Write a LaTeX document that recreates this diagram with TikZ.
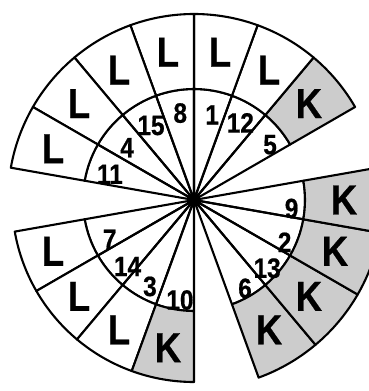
\documentclass[tikz,border=0pt]{standalone}
\usepackage{fontspec}
\setmainfont{Liberation Sans}
\newfontfamily\cellfont[FakeStretch=0.87, FakeBold=0.6]{Liberation Sans}
\definecolor{kgray}{gray}{0.8}
\tikzset{
  wedge/.style={draw, line width=2.1pt, line join=round},
  num/.style={font=\cellfont\bfseries\fontsize{28}{28}\selectfont, inner sep=0pt},
  letter/.style={font=\cellfont\bfseries\fontsize{42}{42}\selectfont, inner sep=0pt}
}
\begin{document}
\begin{tikzpicture}[x=1pt, y=1pt]
  \useasboundingbox (-194,-191) rectangle (175,200);
  \clip (-194,-191) rectangle (175,200);
  \coordinate (c) at (0,0);
  % start angle / outer radius / number / where the number sits / letter / fill
  \foreach \a/\ro/\n/\p/\t/\f in {
      30/186/5/{36:94}/K/kgray, 50/186/12/{59:90}/L/white,
      70/186/1/{78:87}/L/white, 90/186/8/{99:88}/L/white,
      110/186/15/{120:86}/L/white, 130/186/4/{142:85}/L/white,
      150/186/11/{163:88}/L/white,
      190/182/7/{205:93}/L/white, 210/182/14/{225:94}/L/white,
      230/182/3/{243:97}/L/white, 250/182/10/{262:101}/K/kgray,
      290/189/6/{300:102}/K/kgray, 310/189/13/{317:100}/K/kgray,
      330/189/2/{335:100}/K/kgray, 350/189/9/{355:98}/K/kgray}
  {
    \draw[wedge] (c) -- (\a:111pt)
      arc[start angle=\a, end angle=\a+20, radius=111pt] -- cycle;
    \draw[wedge, fill=\f] (\a:111pt) -- (\a:\ro pt)
      arc[start angle=\a, end angle=\a+20, radius=\ro pt] -- (\a+20:111pt)
      arc[start angle=\a+20, end angle=\a, radius=111pt] -- cycle;
    \node[num] (n\n) at (\p) {\n};
    \node[letter] (t\n) at (\a+10:150pt) {\t};
  }
\end{tikzpicture}
\end{document}
